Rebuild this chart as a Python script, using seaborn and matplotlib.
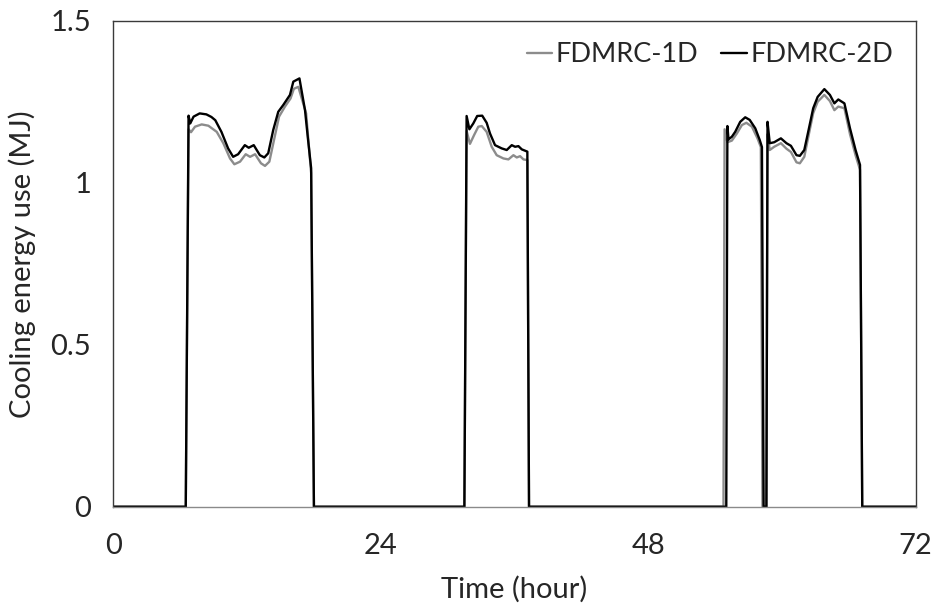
import numpy as np
import pandas as pd
import matplotlib
matplotlib.use("Agg")
import matplotlib.pyplot as plt
import seaborn as sns

# Hourly cooling energy use over three days for the two FDMRC models
time_1d = [0, 6.5, 6.75, 6.97, 7.33, 7.93, 8.53, 9.28, 9.87, 10.47, 10.86, 11.37,
           11.88, 12.27, 12.72, 13.25, 13.61, 14.0, 14.45, 14.87, 15.4, 15.9, 16.2,
           16.6, 17.3, 17.75, 18.0,
           31.5, 31.7, 32.0, 32.37, 32.75, 33.06, 33.5, 33.95, 34.4, 35.0, 35.45,
           35.9, 36.2, 36.5, 36.8, 37.15, 37.3,
           54.75, 54.85, 55.1, 55.5, 55.95, 56.4, 56.8, 57.3, 57.8, 58.1, 58.25,
           58.6, 58.7, 58.9, 59.3, 59.9, 60.4, 60.8, 61.3, 61.6, 62.0, 62.35, 62.8,
           63.2, 63.8, 64.3, 64.7, 65.05, 65.6, 66.1, 66.6, 67.0, 67.2, 72]
energy_1d = [0, 0, 1.165, 1.156, 1.173, 1.180, 1.176, 1.157, 1.122, 1.075, 1.057, 1.065,
             1.088, 1.080, 1.088, 1.060, 1.052, 1.065, 1.137, 1.204, 1.235, 1.260, 1.290,
             1.296, 1.214, 1.030, 0,
             0, 1.160, 1.120, 1.147, 1.173, 1.175, 1.157, 1.111, 1.085, 1.075, 1.072,
             1.085, 1.078, 1.082, 1.072, 1.070, 0,
             0, 1.165, 1.125, 1.130, 1.152, 1.178, 1.185, 1.173, 1.137, 1.110, 0,
             0, 1.150, 1.101, 1.111, 1.122, 1.105, 1.095, 1.063, 1.060, 1.080, 1.140, 1.215,
             1.250, 1.271, 1.252, 1.224, 1.235, 1.230, 1.150, 1.085, 1.040, 0, 0]

time_2d = [0, 6.5, 6.75, 6.9, 7.2, 7.75, 8.35, 8.8, 9.15, 9.7, 10.3, 10.75, 11.2,
           11.8, 12.15, 12.6, 13.15, 13.55, 13.9, 14.35, 14.8, 15.25, 15.85, 16.15,
           16.7, 17.2, 17.45, 17.75, 18.0,
           31.5, 31.7, 31.95, 32.3, 32.65, 33.1, 33.5, 33.8, 34.25, 34.85, 35.3,
           35.75, 36.05, 36.35, 36.65, 37.15, 37.3,
           55.0, 55.1, 55.2, 55.5, 55.8, 56.25, 56.7, 57.1, 57.6, 58.0, 58.2, 58.35,
           58.6, 58.7, 58.9, 59.3, 59.9, 60.4, 60.8, 61.3, 61.6, 62.0, 62.35, 62.8,
           63.2, 63.8, 64.3, 64.7, 65.05, 65.6, 66.1, 66.6, 67.0, 67.2, 72]
energy_2d = [0, 0, 1.207, 1.183, 1.204, 1.214, 1.211, 1.203, 1.193, 1.157, 1.106, 1.080, 1.088,
             1.116, 1.108, 1.116, 1.085, 1.078, 1.091, 1.163, 1.219, 1.240, 1.271, 1.312,
             1.322, 1.224, 1.140, 1.045, 0,
             0, 1.206, 1.165, 1.183, 1.206, 1.207, 1.185, 1.152, 1.116, 1.106, 1.101,
             1.116, 1.111, 1.113, 1.103, 1.096, 0,
             0, 1.175, 1.134, 1.142, 1.157, 1.188, 1.202, 1.194, 1.168, 1.132, 1.110, 0,
             0, 1.188, 1.122, 1.125, 1.137, 1.122, 1.114, 1.085, 1.083, 1.101, 1.157, 1.230,
             1.265, 1.289, 1.271, 1.245, 1.257, 1.245, 1.168, 1.101, 1.055, 0, 0]

series_names = ["FDMRC-1D", "FDMRC-2D"]
x_ticks = [0, 24, 48, 72]
y_ticks = [0, 0.5, 1, 1.5]
y_tick_labels = ["0", "0.5", "1", "1.5"]

df = pd.concat([
    pd.DataFrame({"Time": time_1d, "Energy": energy_1d, "Model": series_names[0]}),
    pd.DataFrame({"Time": time_2d, "Energy": energy_2d, "Model": series_names[1]}),
], ignore_index=True)

sns.set_style("white")
plt.rcParams["font.family"] = ["Lato", "DejaVu Sans"]

fig = plt.figure(figsize=(9.35, 6.1), dpi=100)
ax = fig.add_axes([0.1212, 0.1693, 0.8582, 0.7967])

sns.lineplot(data=df, x="Time", y="Energy", hue="Model", hue_order=series_names,
             palette={"FDMRC-1D": "#8c8c8c", "FDMRC-2D": "#000000"},
             estimator=None, sort=False, linewidth=1.7, ax=ax)

ax.set_xlim(0, 72)
ax.set_ylim(0, 1.5)
ax.set_xticks(x_ticks)
ax.set_yticks(y_ticks)
ax.set_yticklabels(y_tick_labels)

for side in ["left", "bottom", "top", "right"]:
    ax.spines[side].set_visible(True)
    ax.spines[side].set_color("#3a3a3a")
    ax.spines[side].set_linewidth(1.0)
ax.spines["bottom"].set_color("#8a8a8a")

ax.tick_params(axis="both", direction="out", length=10, width=1.0, color="#3a3a3a",
               labelsize=21, pad=6)
ax.tick_params(axis="x", pad=9)

ax.set_xlabel("Time (hour)", fontsize=21, labelpad=12)
ax.set_ylabel("Cooling energy use (MJ)", fontsize=21, labelpad=10)

ax.legend(loc="upper right", bbox_to_anchor=(0.9985, 1.0), ncol=2, frameon=False,
          fontsize=19.5, handlelength=0.95, handletextpad=0.12, columnspacing=0.85,
          borderaxespad=0.4)

fig.savefig("out.png", dpi=100)
